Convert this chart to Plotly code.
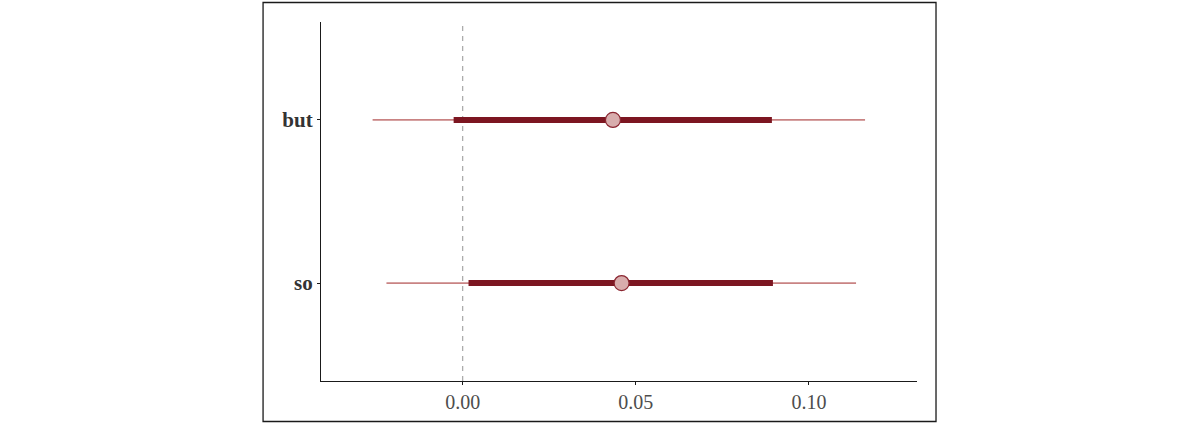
import plotly.graph_objects as go

# Data
terms = ["so", "but"]
point_est = [0.0459, 0.0434]
inner_lo = [0.0017, -0.0026]
inner_hi = [0.0896, 0.0893]
outer_lo = [-0.0220, -0.0260]
outer_hi = [0.1136, 0.1162]
x_ticks = [0.00, 0.05, 0.10]
x_tick_labels = ["0.00", "0.05", "0.10"]

THIN = "#c98383"
THICK = "#7c1621"
PT_FILL = "#d8adad"
PT_LINE = "#8a2530"

fig = go.Figure()

for i, t in enumerate(terms):
    fig.add_trace(go.Scatter(x=[outer_lo[i], outer_hi[i]], y=[t, t], mode="lines",
                             line=dict(color=THIN, width=1.6), showlegend=False, hoverinfo="skip"))
for i, t in enumerate(terms):
    fig.add_trace(go.Scatter(x=[inner_lo[i], inner_hi[i]], y=[t, t], mode="lines",
                             line=dict(color=THICK, width=6), showlegend=False, hoverinfo="skip"))
fig.add_trace(go.Scatter(x=point_est, y=terms, mode="markers",
                         marker=dict(size=15, color=PT_FILL, line=dict(color=PT_LINE, width=1.2)),
                         showlegend=False))

# dashed zero reference line
fig.add_shape(type="line", xref="x", yref="paper", x0=0, x1=0, y0=0, y1=1,
              line=dict(color="#acacac", width=1.3, dash="5px,5px"), layer="below")

FW, FH = 1200, 424
L, R, T, B = 321.4, 917.0, 22.0, 381.0
W, H = R - L, B - T
def px(x): return (x - L) / W
def py(y): return (B - y) / H
fig.add_shape(type="rect", xref="paper", yref="paper",
              x0=px(263.5), x1=px(936.0), y0=py(421.5), y1=py(2.5),
              line=dict(color="#1a1a1a", width=1.3), fillcolor="rgba(0,0,0,0)")

fig.update_layout(
    width=FW, height=FH,
    margin=dict(l=L, r=FW - R, t=T, b=FH - B),
    paper_bgcolor="white", plot_bgcolor="white",
    font=dict(family="Liberation Serif, Times New Roman, serif"),
    xaxis=dict(range=[-0.0409, 0.1312], tickvals=x_ticks, ticktext=x_tick_labels,
               showgrid=False, zeroline=False, showline=True, linecolor="#1a1a1a", linewidth=1.2,
               ticks="outside", ticklen=3, tickcolor="#1a1a1a", tickwidth=1,
               tickfont=dict(size=20, color="#4d4d4d", family="Liberation Serif")),
    yaxis=dict(type="category", categoryorder="array", categoryarray=terms, range=[-0.6, 1.6],
               showgrid=False, zeroline=False, showline=True, linecolor="#1a1a1a", linewidth=1.2,
               ticks="outside", ticklen=3, tickcolor="#1a1a1a", tickwidth=1,
               tickfont=dict(size=21, color="#333333", family="Liberation Serif", weight="bold")),
)

fig.write_html("out.html", config={"displayModeBar": False},
               post_script="document.body.style.margin='0';document.body.style.overflow='hidden';")
